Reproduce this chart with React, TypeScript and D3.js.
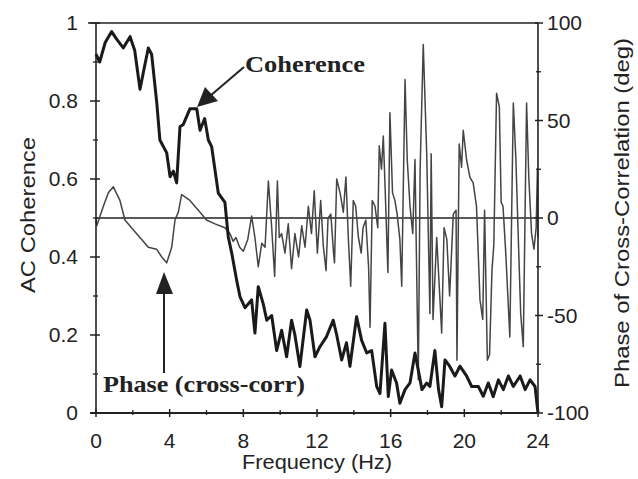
import * as d3 from 'd3';
import React from 'react';

// coherence (left axis), frequency in Hz
const cohFreq = [0, 0.2, 0.5, 0.85, 1.1, 1.48, 1.85, 2.1, 2.39, 2.6, 2.84, 3.02, 3.3, 3.47, 3.84, 4.02, 4.2, 4.38, 4.56, 4.74, 5.1, 5.47, 5.65, 5.9, 6.1, 6.28, 6.64, 7.0, 7.18, 7.37, 7.64, 7.82, 8.09, 8.45, 8.63, 8.81, 9.08, 9.27, 9.54, 9.81, 10.08, 10.35, 10.62, 10.8, 11.07, 11.44, 11.62, 11.89, 12.16, 12.52, 12.88, 13.07, 13.34, 13.6, 13.79, 14.15, 14.42, 14.7, 14.97, 15.24, 15.42, 15.69, 15.87, 16.05, 16.32, 16.5, 16.78, 17.05, 17.32, 17.5, 17.7, 17.96, 18.13, 18.4, 18.6, 18.77, 18.95, 19.2, 19.49, 19.76, 20.12, 20.4, 20.76, 21.03, 21.3, 21.57, 21.85, 22.12, 22.39, 22.66, 23.03, 23.3, 23.57, 23.84, 24];
const cohValues = [0.92, 0.9, 0.95, 0.978, 0.96, 0.936, 0.965, 0.93, 0.83, 0.88, 0.936, 0.92, 0.795, 0.7, 0.667, 0.606, 0.62, 0.59, 0.734, 0.74, 0.78, 0.78, 0.725, 0.755, 0.7, 0.683, 0.564, 0.54, 0.452, 0.41, 0.34, 0.298, 0.27, 0.29, 0.205, 0.324, 0.28, 0.238, 0.25, 0.16, 0.212, 0.144, 0.238, 0.2, 0.119, 0.264, 0.238, 0.144, 0.17, 0.196, 0.238, 0.2, 0.136, 0.18, 0.12, 0.247, 0.187, 0.154, 0.16, 0.068, 0.05, 0.23, 0.042, 0.11, 0.077, 0.025, 0.06, 0.077, 0.154, 0.11, 0.06, 0.077, 0.068, 0.16, 0.06, 0.016, 0.136, 0.12, 0.095, 0.12, 0.095, 0.068, 0.068, 0.043, 0.077, 0.042, 0.085, 0.06, 0.095, 0.068, 0.095, 0.06, 0.085, 0.068, 0.0];

// phase of cross-correlation (right axis, deg)
const phaseFreq = [0, 0.04, 0.4, 0.67, 0.94, 1.3, 1.57, 2.02, 2.48, 2.84, 3.29, 3.57, 3.84, 4.11, 4.29, 4.47, 4.65, 5.1, 5.65, 6.0,
  6.46, 7.0, 7.27, 7.45, 7.6, 7.8, 8.0, 8.24, 8.45, 8.63, 8.81, 9.0, 9.18, 9.36, 9.54, 9.7, 9.85, 9.95, 10.08, 10.26,
  10.44, 10.62, 10.8, 11.0, 11.17, 11.35, 11.53, 11.7, 11.85, 12.02, 12.2, 12.34, 12.49, 12.6, 12.75, 12.9, 12.95, 13.07,
  13.25, 13.43, 13.57, 13.7, 13.83, 13.97, 14.1, 14.25, 14.4, 14.5, 14.65, 14.8, 14.88, 15.0, 15.15, 15.3, 15.38, 15.5, 15.6, 15.7,
  15.85, 15.96, 16.1, 16.23, 16.35, 16.5, 16.6, 16.78, 16.9, 17.05, 17.2, 17.32, 17.5, 17.6, 17.77, 17.96, 18.13, 18.2, 18.3, 18.5,
  18.77, 18.9, 19.05, 19.2, 19.4, 19.55, 19.6, 19.72, 19.85, 19.94, 20.12, 20.3, 20.48, 20.66, 20.85, 21.0, 21.1, 21.25, 21.37, 21.5,
  21.6, 21.75, 21.9, 22.0, 22.1, 22.25, 22.47, 22.66, 22.8, 22.9, 23.06, 23.2, 23.38, 23.5, 23.65, 23.78, 23.9, 23.97, 24];
const phaseValues = [0, -4, 6, 13, 16, 9, -1, -6, -11, -15, -16, -20, -23, -15, -1, 3, 12, 9, 3, -1,
  -3, -5, -8, -12, -10, -15, -17, -11, 1, -10, -25, -13, -15, 19, -5, -30, 19, -10, -8, -18,
  -3, -26, -8, -20, -4, -15, 6, -8, 14, -18, 9, -14, -27, 0, 2, -18, -23, 20,
  13, 3, 21, -10, -35, 9, 6, -10, -18, -5, -1, -25, -56, 9, 6, -5, 37, 25, 42, 15,
  -28, 54, 13, 9, 2, -11, -35, 71, 30, 6, -8, 30, -83, 25, 89, 32, -49, 33, -52, -10,
  -59, -5, -11, -40, 2, 4, -73, 38, 26, 45, 30, 21, 18, 6, -42, -52, 4, -73, -70, -27,
  -14, 64, 57, 8, 6, -18, -61, 59, 30, -1, -49, -66, 59, 21, -8, -16, -5, 25, -10];

const xTicks = [0, 4, 8, 12, 16, 20, 24];
const xMinor = [2, 6, 10, 14, 18, 22];
const leftTicks = [0, 0.2, 0.4, 0.6, 0.8, 1];
const leftTickLabels = ['0', '0.2', '0.4', '0.6', '0.8', '1'];
const leftMinor = [0.1, 0.3, 0.5, 0.7, 0.9];
const rightTicks = [-100, -50, 0, 50, 100];
const rightMinor = [-75, -25, 25, 75];

const W = 638, H = 479;
const margin = { left: 96, right: 100, top: 23, bottom: 66 };

export default function App() {
  const x = d3.scaleLinear().domain([0, 24]).range([margin.left, W - margin.right]);
  const yL = d3.scaleLinear().domain([0, 1]).range([H - margin.bottom, margin.top]);
  const yR = d3.scaleLinear().domain([-100, 100]).range([H - margin.bottom, margin.top]);

  const cohLine = d3.line<number>().x((d, i) => x(cohFreq[i])).y(d => yL(d));
  const phaseLine = d3.line<number>().x((d, i) => x(phaseFreq[i])).y(d => yR(d));

  const x0 = x(0), x1 = x(24), yTop = yL(1), yBot = yL(0);
  const font = '"Liberation Sans", Arial, sans-serif';
  const serif = '"Liberation Serif", "Times New Roman", serif';

  return (
    <svg width={W} height={H} style={{ position: 'absolute', left: 0, top: 0, background: '#fff' }}>
      {/* phase zero line */}
      <line x1={x0} x2={x1} y1={yR(0)} y2={yR(0)} stroke="#222" strokeWidth={1.6} />

      <path d={phaseLine(phaseValues) || ''} fill="none" stroke="#444" strokeWidth={1.5} strokeLinejoin="round" />
      <path d={cohLine(cohValues) || ''} fill="none" stroke="#1a1a1a" strokeWidth={3} strokeLinejoin="round" />

      {/* frame */}
      <line x1={x0} x2={x0} y1={yTop} y2={yBot} stroke="#222" strokeWidth={1.6} />
      <line x1={x1} x2={x1} y1={yTop} y2={yBot} stroke="#222" strokeWidth={1.6} />
      <line x1={x0 - 8} x2={x1} y1={yTop} y2={yTop} stroke="#222" strokeWidth={1.6} />
      <line x1={x0 - 6} x2={x1} y1={yBot} y2={yBot} stroke="#222" strokeWidth={1.8} />

      {/* left axis */}
      {leftTicks.map((t, i) => (
        <g key={'l' + t}>
          <line x1={x0 - 6} x2={x0 + 4} y1={yL(t)} y2={yL(t)} stroke="#222" strokeWidth={1.5} />
          <text x={78} y={yL(t) + 7} textAnchor="end" fontFamily={font} fontSize={21} fill="#222">{leftTickLabels[i]}</text>
        </g>
      ))}
      {leftMinor.map(t => (
        <line key={'lm' + t} x1={x0 - 3} x2={x0 + 2} y1={yL(t)} y2={yL(t)} stroke="#222" strokeWidth={1.3} />
      ))}

      {/* right axis */}
      {rightTicks.map(t => (
        <g key={'r' + t}>
          <line x1={x1 - 3} x2={x1 + 5} y1={yR(t)} y2={yR(t)} stroke="#222" strokeWidth={1.5} />
          <text x={547} y={yR(t) + 7} fontFamily={font} fontSize={21} fill="#222">{t}</text>
        </g>
      ))}
      {rightMinor.map(t => (
        <line key={'rm' + t} x1={x1 - 2} x2={x1 + 3} y1={yR(t)} y2={yR(t)} stroke="#222" strokeWidth={1.3} />
      ))}

      {/* bottom axis */}
      {xTicks.map(t => (
        <g key={'b' + t}>
          <line x1={x(t)} x2={x(t)} y1={yBot - 4} y2={yBot + 4} stroke="#222" strokeWidth={1.5} />
          <text x={x(t)} y={448} textAnchor="middle" fontFamily={font} fontSize={21} fill="#222">{t}</text>
        </g>
      ))}
      {xMinor.map(t => (
        <line key={'bm' + t} x1={x(t)} x2={x(t)} y1={yBot - 3} y2={yBot + 2} stroke="#222" strokeWidth={1.3} />
      ))}

      {/* axis titles */}
      <text x={(x0 + x1) / 2} y={469} textAnchor="middle" fontFamily={font} fontSize={21} fill="#222"
        textLength={150} lengthAdjust="spacingAndGlyphs">Frequency (Hz)</text>
      <text transform="translate(35,215) rotate(-90)" textAnchor="middle" fontFamily={font} fontSize={21} fill="#222"
        textLength={156} lengthAdjust="spacingAndGlyphs">AC Coherence</text>
      <text transform="translate(629,213) rotate(-90)" textAnchor="middle" fontFamily={font} fontSize={21} fill="#222"
        textLength={350} lengthAdjust="spacingAndGlyphs">Phase of Cross-Correlation (deg)</text>

      {/* annotations */}
      <text x={245} y={72} fontFamily={serif} fontSize={23} fontWeight="bold" fill="#222"
        textLength={120} lengthAdjust="spacingAndGlyphs">Coherence</text>
      <line x1={244} y1={67} x2={210} y2={96} stroke="#222" strokeWidth={2} />
      <path d="M197,107 L205,87 L218,101 Z" fill="#222" />

      <text x={103} y={392} fontFamily={serif} fontSize={23} fill="#222" fontWeight="bold"
        textLength={202} lengthAdjust="spacingAndGlyphs">Phase (cross-corr)</text>
      <line x1={164} y1={373} x2={164} y2={290} stroke="#222" strokeWidth={2} />
      <path d="M164,272 L156,294 L173,294 Z" fill="#222" />
    </svg>
  );
}
